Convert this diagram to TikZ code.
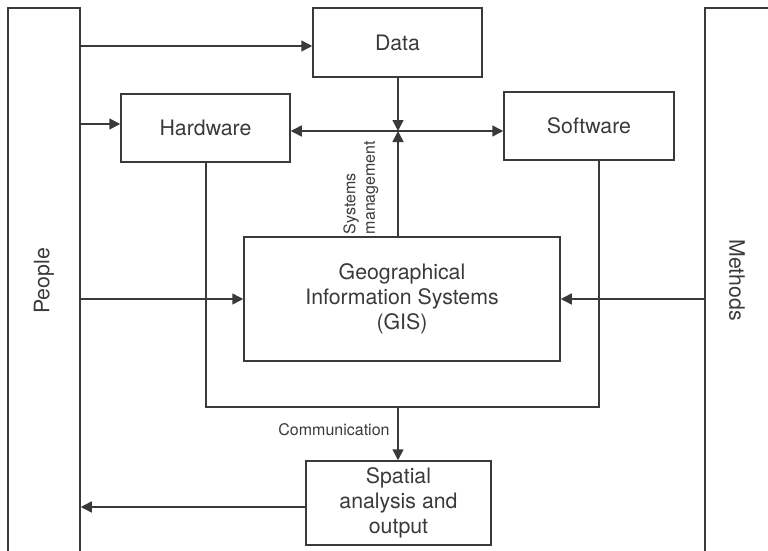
\documentclass[tikz,border=0pt]{standalone}
\usepackage{fontspec}
\setmainfont{TeX Gyre Heros}
\usetikzlibrary{arrows.meta}
\definecolor{inkgray}{HTML}{3A3A3A}
\newcommand{\bigtext}{\fontsize{21.3}{25}\selectfont}
\newcommand{\smalltext}{\fontsize{16}{19.5}\selectfont}

\begin{document}
\begin{tikzpicture}[x=1pt, y=-1pt, line width=1.5pt, color=inkgray]
        \useasboundingbox (0,0) rectangle (768,551);
        \clip (0,0) rectangle (768,551);
        \begin{scope}
          \begin{scope}[every node/.style={draw=inkgray, rectangle, inner sep=0pt, align=center, font=\bigtext}]
            \node[minimum width=72pt,  minimum height=600pt] (people)   at ( 44  ,308  ) {};
            \node[minimum width=135pt, minimum height=600pt] (methods)  at (772.5,308  ) {};
            \node[minimum width=169pt, minimum height=69pt]  (data)     at (397.5, 42.5) {Data};
            \node[minimum width=169pt, minimum height=68pt]  (hardware) at (205.5,128  ) {Hardware};
            \node[minimum width=170pt, minimum height=68pt]  (software) at (589  ,126  ) {Software};
            \node[minimum width=316pt, minimum height=124pt] (gis)      at (402  ,299  ) {Geographical\\Information Systems\\(GIS)};
            \node[minimum width=185pt, minimum height=84pt]  (spatial)  at (398.5,503  ) {Spatial\\analysis and\\output};
          \end{scope}
          \node[rotate=90,  font=\bigtext] (peoplelabel)  at ( 44,281) {People};
          \node[rotate=-90, font=\bigtext] (methodslabel) at (737,280) {Methods};
          \coordinate (hub)     at (398,131);
          \coordinate (commL)   at (206,407);
          \coordinate (commM)   at (398,407);
          \coordinate (commR)   at (599,407);
          \coordinate (datain)  at ([yshift=-3.5pt]data.west);
          \coordinate (hardin)  at ([yshift=4pt]hardware.west);
          \coordinate (spatout) at ([yshift=-4pt]spatial.west);
          \begin{scope}[every edge/.style={draw=inkgray, -{Triangle[length=11pt, width=11pt]}}]
            \path (people.east |- datain)  edge (datain);
            \path (people.east |- hardin)  edge (hardin);
            \path (people.east |- gis)     edge (gis);
            \path (methods.west |- gis)    edge (gis);
            \path (spatout)                edge (people.east |- spatout);
            \path (data.south -| hub)      edge (hub);
            \path (gis.north -| hub)       edge (hub);
            \path (hub)                    edge (hardware.east |- hub);
            \path (hub)                    edge (software.west |- hub);
            \path (commM)                  edge (spatial.north -| commM);
          \end{scope}
          \draw (hardware.south -| commL) |- (commR) -- (software.south -| commR);
          \node[rotate=90, align=left, font=\smalltext] (syslabel)  at (361,187.5) {Systems\\management};
          \node[font=\smalltext]                        (commlabel) at (334,430)   {Communication};
        \end{scope}
      \end{tikzpicture}
\end{document}
